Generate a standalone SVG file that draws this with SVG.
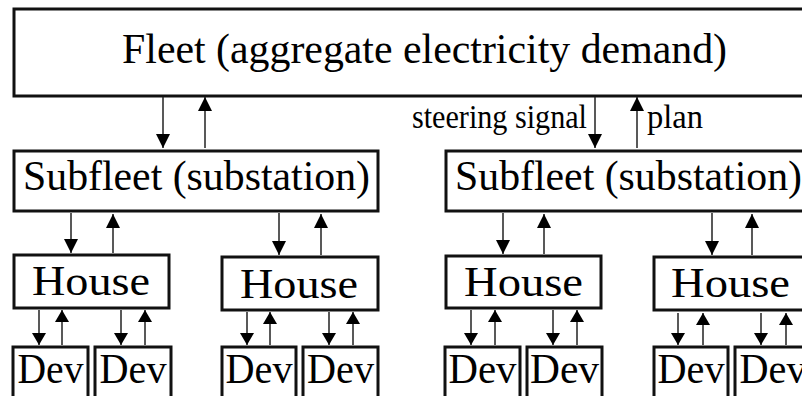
<svg xmlns="http://www.w3.org/2000/svg" width="802" height="396" viewBox="0 0 802 396">
<style>
  .box { fill: #fff; stroke: #111; stroke-width: 3; }
  .t { font-family: "Liberation Serif", "Times New Roman", serif; fill: #000; }
  .big { font-size: 43px; }
  .lab { font-size: 33px; }
  .dev { font-size: 42px; text-anchor: middle; }
  .arr { stroke: #222; stroke-width: 1.5; fill: none; }
  .a1 { marker-end: url(#h1); }
  .a2 { marker-end: url(#h2); }
</style>
<defs>
  <marker id="h1" markerUnits="userSpaceOnUse" markerWidth="14" markerHeight="14" refX="14" refY="7" orient="auto">
    <path d="M0,0 L14,7 L0,14 z" fill="#000"/>
  </marker>
  <marker id="h2" markerUnits="userSpaceOnUse" markerWidth="13" markerHeight="14" refX="12" refY="7" orient="auto">
    <path d="M0,0 L12,7 L0,14 z" fill="#000"/>
  </marker>
</defs>
<rect width="802" height="396" fill="#fff"/>

<g id="fleet">
  <rect class="box" x="14" y="9" width="830" height="87"/>
  <text class="t big" x="122" y="63" textLength="605" lengthAdjust="spacingAndGlyphs">Fleet (aggregate electricity demand)</text>
</g>

<g id="subfleet1">
  <rect class="box" x="14" y="151" width="364" height="60"/>
  <text class="t big" x="23" y="190" textLength="347" lengthAdjust="spacingAndGlyphs">Subfleet (substation)</text>
</g>
<g id="subfleet2">
  <rect class="box" x="446" y="151" width="400" height="60"/>
  <text class="t big" x="455" y="190" textLength="347" lengthAdjust="spacingAndGlyphs">Subfleet (substation)</text>
</g>

<g id="house1">
  <rect class="box" x="14" y="255" width="155" height="53"/>
  <text class="t big" x="32" y="295" textLength="118" lengthAdjust="spacingAndGlyphs">House</text>
</g>
<g id="house2">
  <rect class="box" x="222" y="257" width="156" height="53"/>
  <text class="t big" x="240" y="298" textLength="118" lengthAdjust="spacingAndGlyphs">House</text>
</g>
<g id="house3">
  <rect class="box" x="446" y="256" width="155" height="52"/>
  <text class="t big" x="464" y="296" textLength="119" lengthAdjust="spacingAndGlyphs">House</text>
</g>
<g id="house4">
  <rect class="box" x="654" y="257" width="170" height="53"/>
  <text class="t big" x="671" y="297" textLength="119" lengthAdjust="spacingAndGlyphs">House</text>
</g>

<g id="dev1"><rect class="box" x="13" y="347" width="75" height="60"/><text class="t dev" x="50.5" y="383" textLength="66" lengthAdjust="spacingAndGlyphs">Dev</text></g>
<g id="dev2"><rect class="box" x="95" y="347" width="76" height="60"/><text class="t dev" x="133" y="383" textLength="67" lengthAdjust="spacingAndGlyphs">Dev</text></g>
<g id="dev3"><rect class="box" x="222" y="347" width="74" height="60"/><text class="t dev" x="259" y="383" textLength="67" lengthAdjust="spacingAndGlyphs">Dev</text></g>
<g id="dev4"><rect class="box" x="303" y="347" width="75" height="60"/><text class="t dev" x="340.5" y="383" textLength="67" lengthAdjust="spacingAndGlyphs">Dev</text></g>
<g id="dev5"><rect class="box" x="445" y="347" width="75" height="60"/><text class="t dev" x="482.5" y="383" textLength="68" lengthAdjust="spacingAndGlyphs">Dev</text></g>
<g id="dev6"><rect class="box" x="527" y="347" width="75" height="60"/><text class="t dev" x="564.5" y="383" textLength="69" lengthAdjust="spacingAndGlyphs">Dev</text></g>
<g id="dev7"><rect class="box" x="654" y="347" width="74" height="60"/><text class="t dev" x="691" y="383" textLength="67" lengthAdjust="spacingAndGlyphs">Dev</text></g>
<g id="dev8"><rect class="box" x="735" y="347" width="76" height="60"/><text class="t dev" x="773" y="383" textLength="67" lengthAdjust="spacingAndGlyphs">Dev</text></g>

<g id="labels">
  <text class="t lab" x="412" y="128" textLength="175" lengthAdjust="spacingAndGlyphs">steering signal</text>
  <text class="t lab" x="647" y="128" textLength="56" lengthAdjust="spacingAndGlyphs">plan</text>
</g>

<g id="connectors">
  <line class="arr a1" x1="163" y1="97" x2="163" y2="148"/>
  <line class="arr a1" x1="205" y1="148" x2="205" y2="97"/>
  <line class="arr a1" x1="595" y1="97" x2="595" y2="148"/>
  <line class="arr a1" x1="637" y1="148" x2="637" y2="97"/>

  <line class="arr a1" x1="71" y1="213" x2="71" y2="253"/>
  <line class="arr a1" x1="113" y1="253" x2="113" y2="214"/>
  <line class="arr a1" x1="279" y1="213" x2="279" y2="255"/>
  <line class="arr a1" x1="321" y1="255" x2="321" y2="214"/>
  <line class="arr a1" x1="503" y1="213" x2="503" y2="254"/>
  <line class="arr a1" x1="544" y1="254" x2="544" y2="214"/>
  <line class="arr a1" x1="712" y1="213" x2="712" y2="255"/>
  <line class="arr a1" x1="752" y1="255" x2="752" y2="214"/>

  <line class="arr a2" x1="39" y1="310" x2="39" y2="345"/>
  <line class="arr a2" x1="62" y1="345" x2="62" y2="310"/>
  <line class="arr a2" x1="121" y1="310" x2="121" y2="345"/>
  <line class="arr a2" x1="145" y1="345" x2="145" y2="310"/>
  <line class="arr a2" x1="247" y1="312" x2="247" y2="345"/>
  <line class="arr a2" x1="270" y1="345" x2="270" y2="312"/>
  <line class="arr a2" x1="329" y1="312" x2="329" y2="345"/>
  <line class="arr a2" x1="353" y1="345" x2="353" y2="312"/>
  <line class="arr a2" x1="471" y1="310" x2="471" y2="345"/>
  <line class="arr a2" x1="495" y1="345" x2="495" y2="310"/>
  <line class="arr a2" x1="553" y1="310" x2="553" y2="345"/>
  <line class="arr a2" x1="577" y1="345" x2="577" y2="310"/>
  <line class="arr a2" x1="678" y1="313" x2="678" y2="345"/>
  <line class="arr a2" x1="703" y1="345" x2="703" y2="313"/>
  <line class="arr a2" x1="761" y1="313" x2="761" y2="345"/>
  <line class="arr a2" x1="786" y1="345" x2="786" y2="313"/>
</g>
</svg>
